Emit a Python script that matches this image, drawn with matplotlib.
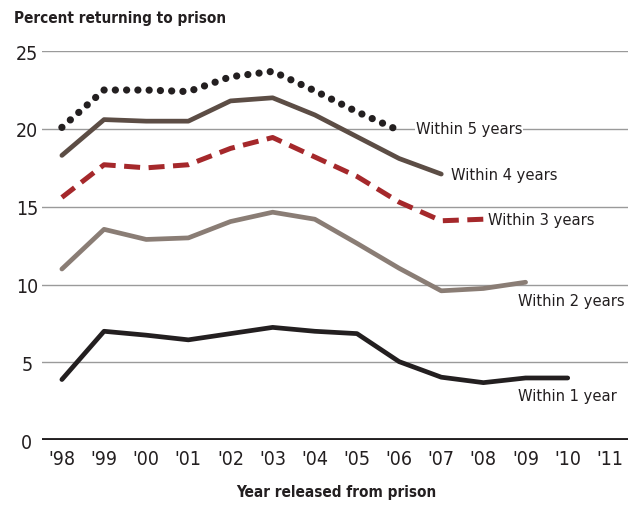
import matplotlib
matplotlib.use("Agg")
import matplotlib.pyplot as plt

plt.rcParams['font.family'] = ['DejaVu Sans']
plt.rcParams['font.stretch'] = 'condensed'

years = [1998, 1999, 2000, 2001, 2002, 2003, 2004, 2005, 2006, 2007, 2008, 2009, 2010, 2011]
tick_labels = ["'98", "'99", "'00", "'01", "'02", "'03", "'04", "'05", "'06", "'07", "'08", "'09", "'10", "'11"]

within1 = [3.9, 7.0, 6.75, 6.45, 6.85, 7.25, 7.0, 6.85, 5.05, 4.05, 3.7, 4.0, 4.0]
within2 = [11.0, 13.55, 12.9, 13.0, 14.05, 14.65, 14.2, 12.65, 11.05, 9.6, 9.75, 10.15]
within3 = [15.6, 17.7, 17.5, 17.7, 18.75, 19.45, 18.2, 16.95, 15.3, 14.1, 14.2]
within4 = [18.3, 20.6, 20.5, 20.5, 21.8, 22.0, 20.9, 19.5, 18.1, 17.1]
within5 = [20.1, 22.5, 22.5, 22.4, 23.35, 23.7, 22.45, 21.1, 19.9]

labels = ["Within 1 year", "Within 2 years", "Within 3 years", "Within 4 years", "Within 5 years"]

fig = plt.figure(figsize=(6.28, 5.06), dpi=100)
ax = fig.add_axes([0.067, 0.128, 0.933, 0.769])

for y in [5, 10, 15, 20, 25]:
    ax.axhline(y, color='#9a9a9a', lw=1.0, zorder=1)
ax.axhline(0, color='#231f20', lw=2.8, zorder=2)

ax.plot(years[:len(within1)], within1, color='#231f20', lw=3.4, solid_capstyle='round', zorder=3)
ax.plot(years[:len(within2)], within2, color='#8a7d75', lw=3.4, solid_capstyle='round', zorder=3)
ax.plot(years[:len(within3)], within3, color='#a5282b', lw=3.6, linestyle=(0, (3.2, 1.7)), zorder=3)
ax.plot(years[:len(within4)], within4, color='#5c4d45', lw=3.4, solid_capstyle='round', zorder=3)
ax.plot(years[:len(within5)], within5, color='#231f20', lw=5.2, linestyle=(0, (0.01, 1.55)),
        dash_capstyle='round', zorder=3)

txt = dict(fontsize=11.8, color='#231f20', va='center', ha='left', zorder=4)
ax.text(2006.4, 20.0, labels[4], bbox=dict(facecolor='white', edgecolor='none', pad=0.5), **txt)
ax.text(2007.22, 17.1, labels[3], **txt)
ax.text(2008.12, 14.2, labels[2], **txt)
ax.text(2008.81, 9.0, labels[1], **txt)
ax.text(2008.81, 2.9, labels[0], **txt)

ax.set_xlim(1997.53, 2011.43)
ax.set_ylim(0, 25)
ax.set_xticks(years)
ax.set_xticklabels(tick_labels)
ax.set_yticks([0, 5, 10, 15, 20, 25])
ax.tick_params(length=0, labelsize=14, colors='#231f20', pad=6)
ax.tick_params(axis='y', pad=11)
for lab in ax.get_yticklabels():
    lab.set_horizontalalignment('center')
for s in ax.spines.values():
    s.set_visible(False)

fig.text(0.022, 0.963, "Percent returning to prison", fontsize=11, fontweight='bold',
         color='#231f20', va='center', ha='left')
fig.text(0.535, 0.027, "Year released from prison", fontsize=11, fontweight='bold',
         color='#231f20', va='center', ha='center')

fig.savefig("out.png", dpi=100)
